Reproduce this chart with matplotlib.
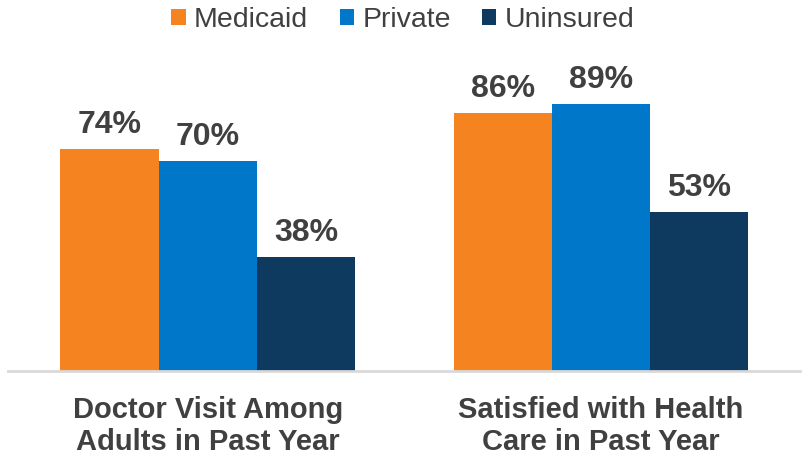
import numpy as np
import matplotlib.pyplot as plt
from matplotlib.patches import Patch

plt.rcParams['font.family'] = ['Liberation Sans', 'DejaVu Sans']

# --------------------------------------------------------------------------------------------
# DATA
categories = ['Doctor Visit Among\nAdults in Past Year', 'Satisfied with Health\nCare in Past Year']
seriesNames = ['Medicaid', 'Private', 'Uninsured']
medicaid = [74, 86]
private = [70, 89]
uninsured = [38, 53]

colors = ['#F5831F', '#0077C8', '#0F3A5F']
textColor = '#404040'

# --------------------------------------------------------------------------------------------
# PLOT
fig = plt.figure(figsize=(8.06, 4.55), dpi=100)
ax = fig.add_axes([8 / 806, (455 - 371) / 455, 792 / 806, 300 / 455])

x = np.arange(len(categories))
width = 0.25
for i, (vals, col) in enumerate(zip([medicaid, private, uninsured], colors)):
    pos = x + (i - 1) * width
    ax.bar(pos, vals, width, color=col, zorder=2)
    for p, v in zip(pos, vals):
        ax.text(p, v + 3.0, str(v) + '%', ha='center', va='bottom', fontsize=23,
                fontweight='bold', color=textColor, clip_on=False)

ax.set_xlim(-0.508, 1.506)
ax.set_ylim(0, 100)
ax.set_yticks([])
ax.set_xticks(x)
ax.set_xticklabels(categories, fontsize=21, fontweight='bold', color=textColor, linespacing=1.2)
ax.tick_params(axis='x', length=0, pad=18)
for s in ['top', 'right', 'left']:
    ax.spines[s].set_visible(False)
ax.spines['bottom'].set_color('#D9D9D9')
ax.spines['bottom'].set_linewidth(2)
ax.set_facecolor('none')

handles = [Patch(facecolor=c, edgecolor='none') for c in colors]
fig.legend(handles, seriesNames, loc='center', bbox_to_anchor=(403 / 806, 1 - 20 / 455),
           ncol=3, frameon=False, fontsize=20.5, handlelength=0.5, handleheight=0.5,
           handletextpad=0.3, columnspacing=1.1, labelcolor=textColor, borderpad=0)

fig.savefig('out.png', dpi=100)
